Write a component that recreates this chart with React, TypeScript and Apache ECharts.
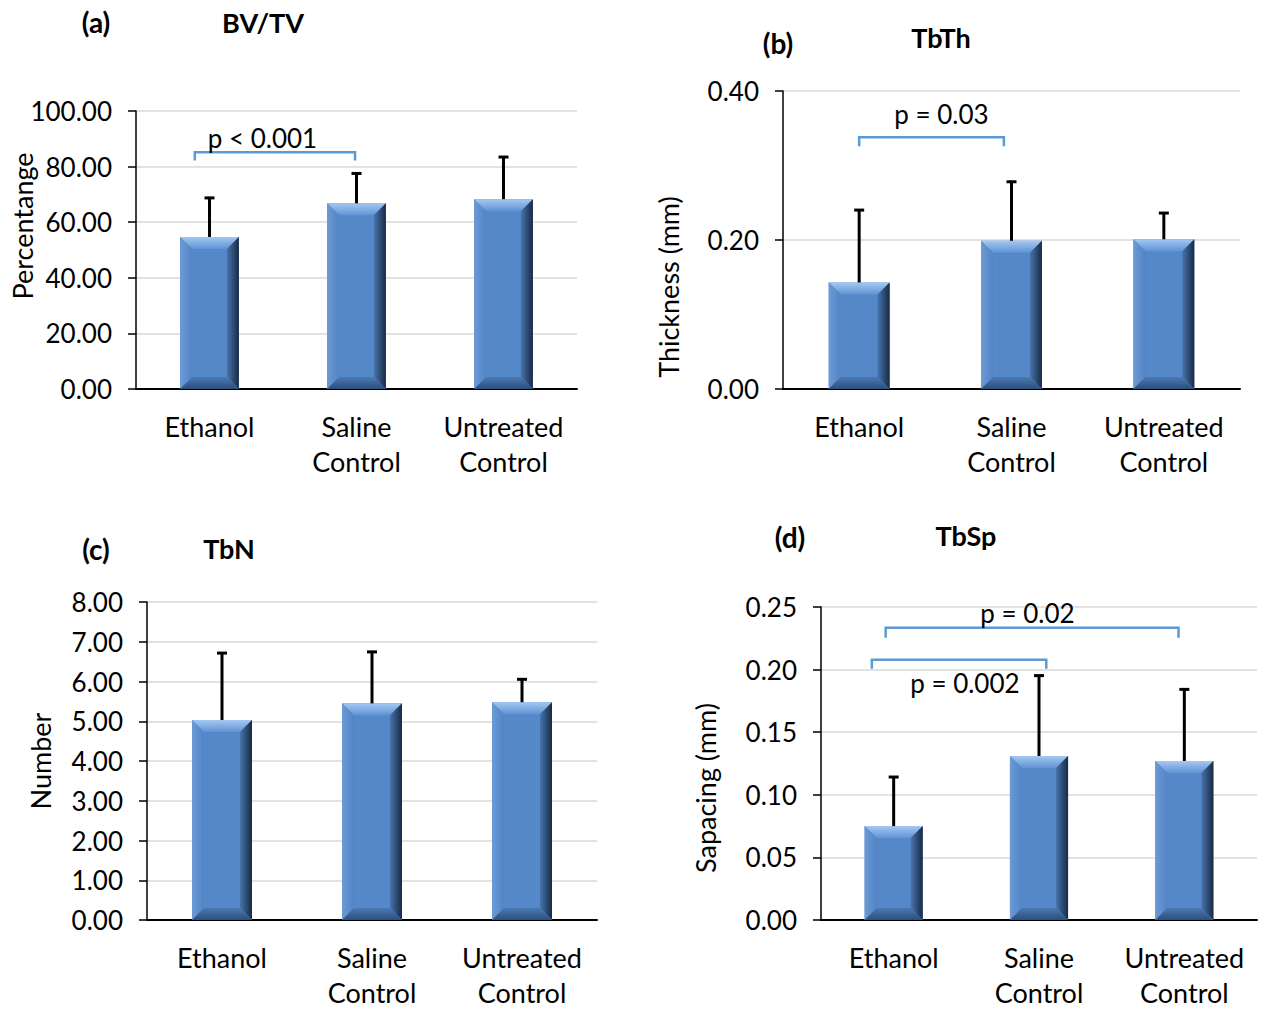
import React, { useEffect, useRef } from "react";
import * as echarts from "echarts";

// ---------- data ----------
const categories = ["Ethanol", "Saline\nControl", "Untreated\nControl"];

const bvtvMean = [54.7, 66.8, 68.3];
const bvtvSd = [14.4, 11.1, 15.5];

const tbthMean = [0.143, 0.199, 0.201];
const tbthSd = [0.0985, 0.0805, 0.0365];

const tbnMean = [5.03, 5.45, 5.48];
const tbnSd = [1.71, 1.32, 0.6];

const tbspMean = [0.075, 0.131, 0.127];
const tbspSd = [0.04, 0.065, 0.058];

// significance brackets: [fromIndex, toIndex, level, endLevel]
const bvtvBrackets = [[-0.1, 0.99, 85.2, 82.2]];
const bvtvPText = ["p < 0.001"];
const bvtvPAt = [[0.36, 90.2]];

const tbthBrackets = [[0.0, 0.95, 0.338, 0.326]];
const tbthPText = ["p = 0.03"];
const tbthPAt = [[0.54, 0.369]];

const tbnBrackets: number[][] = [];
const tbnPText: string[] = [];
const tbnPAt: number[][] = [];

const tbspBrackets = [
  [-0.055, 1.96, 0.2334, 0.2254],
  [-0.15, 1.05, 0.2078, 0.2006],
];
const tbspPText = ["p = 0.02", "p = 0.002"];
const tbspPAt = [
  [0.92, 0.2453],
  [0.49, 0.1893],
];

const yMax = [100, 0.4, 8, 0.25];
const yStep = [20, 0.2, 1, 0.05];
const panelLetters = ["(a)", "(b)", "(c)", "(d)"];
const panelTitles = ["BV/TV", "TbTh", "TbN", "TbSp"];
const yNames = ["Percentange", "Thickness (mm)", "Number", "Sapacing (mm)"];

// ---------- layout / style ----------
const FONT = "Lato, 'Open Sans', sans-serif";
const grids = [
  { left: 136, top: 111, width: 441, height: 278 },
  { left: 783, top: 91, width: 457, height: 298 },
  { left: 147, top: 602, width: 450, height: 320 },
  { left: 821, top: 607, width: 436, height: 315 },
];
const letterPos = [
  [96, 22],
  [778, 43],
  [96, 549],
  [790, 537],
];
const titlePos = [
  [263, 22],
  [941, 37],
  [229, 548],
  [966, 535],
];
const namePos = [
  [22, 226],
  [668, 287],
  [40, 761],
  [705, 788],
];

function bevelBar(params: any, api: any) {
  const idx = api.value(0);
  const v = api.value(1);
  const top = api.coord([idx, v]);
  const base = api.coord([idx, 0]);
  const band = api.coord([1, 0])[0] - api.coord([0, 0])[0];
  const w = band * 0.4;
  const x0 = top[0] - w / 2;
  const x1 = top[0] + w / 2;
  const y0 = top[1];
  const y1 = base[1];
  const b = 12;
  const G = echarts.graphic.LinearGradient;
  return {
    type: "group",
    children: [
      {
        type: "rect",
        shape: { x: x0, y: y0, width: x1 - x0, height: y1 - y0 },
        style: { fill: "#5588C8" },
      },
      {
        type: "polygon",
        shape: { points: [[x0, y0], [x1, y0], [x1 - b, y0 + b], [x0 + b, y0 + b]] },
        style: {
          fill: new G(0, 0, 0, 1, [
            { offset: 0, color: "#A4C8F2" },
            { offset: 1, color: "#5F93D4" },
          ]),
        },
      },
      {
        type: "polygon",
        shape: { points: [[x0, y0], [x0 + b, y0 + b], [x0 + b, y1 - b], [x0, y1]] },
        style: {
          fill: new G(0, 0, 1, 0, [
            { offset: 0, color: "#6C9AD6" },
            { offset: 1, color: "#5284C4" },
          ]),
        },
      },
      {
        type: "polygon",
        shape: { points: [[x1, y0], [x1, y1], [x1 - b, y1 - b], [x1 - b, y0 + b]] },
        style: {
          fill: new G(0, 0, 1, 0, [
            { offset: 0, color: "#4774AE" },
            { offset: 1, color: "#182A42" },
          ]),
        },
      },
      {
        type: "polygon",
        shape: { points: [[x0, y1], [x1, y1], [x1 - b, y1 - b], [x0 + b, y1 - b]] },
        style: {
          fill: new G(0, 0, 0, 1, [
            { offset: 0, color: "#4B79B4" },
            { offset: 1, color: "#2D4E7C" },
          ]),
        },
      },
    ],
  };
}

function errBar(params: any, api: any) {
  const idx = api.value(0);
  const p0 = api.coord([idx, api.value(1)]);
  const p1 = api.coord([idx, api.value(2)]);
  return {
    type: "group",
    children: [
      {
        type: "line",
        shape: { x1: p0[0], y1: p0[1], x2: p1[0], y2: p1[1] },
        style: { stroke: "#000", lineWidth: 3 },
      },
      {
        type: "line",
        shape: { x1: p1[0] - 5, y1: p1[1] + 1, x2: p1[0] + 5, y2: p1[1] + 1 },
        style: { stroke: "#000", lineWidth: 3 },
      },
    ],
  };
}

function bracket(params: any, api: any) {
  const c0 = api.coord([0, 0])[0];
  const band = api.coord([1, 0])[0] - c0;
  const xa = c0 + api.value(2) * band;
  const xb = c0 + api.value(3) * band;
  const y = api.coord([0, api.value(1)])[1];
  const yd = api.coord([0, api.value(4)])[1];
  return {
    type: "polyline",
    shape: { points: [[xa, yd], [xa, y], [xb, y], [xb, yd]] },
    style: { stroke: "#5B9BD5", lineWidth: 2.5, fill: "none" },
  };
}

function makeLabel(texts: string[]) {
  return function (params: any, api: any) {
    const c0 = api.coord([0, 0])[0];
    const band = api.coord([1, 0])[0] - c0;
    const x = c0 + api.value(2) * band;
    const y = api.coord([0, api.value(1)])[1];
    return {
      type: "text",
      x,
      y,
      style: {
        text: texts[params.dataIndex],
        fontSize: 26,
        fontFamily: FONT,
        fill: "#000",
        align: "center",
        verticalAlign: "middle",
      },
    };
  };
}

export default function App() {
  const ref = useRef<HTMLDivElement>(null);
  useEffect(() => {
    if (!ref.current) return;
    const chart = echarts.init(ref.current, undefined, { renderer: "svg" });
    const means = [bvtvMean, tbthMean, tbnMean, tbspMean];
    const sds = [bvtvSd, tbthSd, tbnSd, tbspSd];
    const brackets = [bvtvBrackets, tbthBrackets, tbnBrackets, tbspBrackets];
    const pTexts = [bvtvPText, tbthPText, tbnPText, tbspPText];
    const pAts = [bvtvPAt, tbthPAt, tbnPAt, tbspPAt];

    const series: any[] = [];
    means.forEach((m, i) => {
      series.push({
        type: "custom",
        xAxisIndex: i,
        yAxisIndex: i,
        renderItem: bevelBar,
        encode: { x: 0, y: 1 },
        data: m.map((v, k) => [k, v]),
      });
      series.push({
        type: "custom",
        xAxisIndex: i,
        yAxisIndex: i,
        renderItem: errBar,
        encode: { x: 0, y: 1 },
        data: m.map((v, k) => [k, v, v + sds[i][k]]),
      });
      if (brackets[i].length) {
        series.push({
          type: "custom",
          xAxisIndex: i,
          yAxisIndex: i,
          renderItem: bracket,
          encode: { x: 0, y: 1 },
          data: brackets[i].map((b) => [0, b[2], b[0], b[1], b[3]]),
        });
        series.push({
          type: "custom",
          xAxisIndex: i,
          yAxisIndex: i,
          renderItem: makeLabel(pTexts[i]),
          encode: { x: 0, y: 1 },
          data: pAts[i].map((p) => [0, p[1], p[0]]),
        });
      }
    });

    const graphic: any[] = [];
    for (let i = 0; i < 4; i++) {
      graphic.push({
        type: "text",
        x: letterPos[i][0],
        y: letterPos[i][1],
        style: {
          text: panelLetters[i],
          fontSize: 28,
          fontWeight: "bold",
          fontFamily: FONT,
          fill: "#000",
          align: "center",
          verticalAlign: "middle",
        },
      });
      graphic.push({
        type: "text",
        x: titlePos[i][0],
        y: titlePos[i][1],
        style: {
          text: panelTitles[i],
          fontSize: 27,
          fontWeight: "bold",
          fontFamily: FONT,
          fill: "#000",
          align: "center",
          verticalAlign: "middle",
        },
      });
      graphic.push({
        type: "text",
        x: namePos[i][0],
        y: namePos[i][1],
        rotation: Math.PI / 2,
        style: {
          text: yNames[i],
          fontSize: 27,
          fontFamily: FONT,
          fill: "#000",
          align: "center",
          verticalAlign: "middle",
        },
      });
    }

    chart.setOption({
      animation: false,
      backgroundColor: "#fff",
      grid: grids,
      xAxis: grids.map((_, i) => ({
        type: "category",
        gridIndex: i,
        data: categories,
        axisLine: { show: true, lineStyle: { color: "#000", width: 2 } },
        axisTick: { show: false },
        axisLabel: {
          color: "#000",
          fontSize: 27,
          fontFamily: FONT,
          lineHeight: 35,
          margin: 20,
          interval: 0,
        },
      })),
      yAxis: grids.map((_, i) => ({
        type: "value",
        gridIndex: i,
        min: 0,
        max: yMax[i],
        interval: yStep[i],
        axisLine: { show: true, lineStyle: { color: "#000", width: 1.5 } },
        axisTick: { show: true, length: 8, lineStyle: { color: "#000", width: 1.5 } },
        axisLabel: {
          color: "#000",
          fontSize: 26,
          fontFamily: FONT,
          margin: 24,
          formatter: (v: number) => v.toFixed(2),
        },
        splitLine: { show: true, lineStyle: { color: "#D9D9D9", width: 1.5 } },
      })),
      graphic,
      series,
    });
    return () => chart.dispose();
  }, []);
  return (
    <div
      ref={ref}
      style={{ position: "absolute", left: 0, top: 0, width: 1272, height: 1010 }}
    />
  );
}
